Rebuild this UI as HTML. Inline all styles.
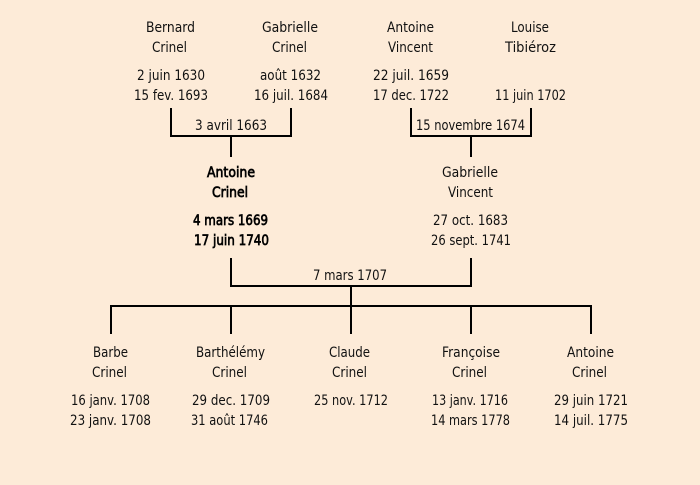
<!DOCTYPE html>
<html><head><meta charset="utf-8"><style>
html,body{margin:0;padding:0;background:#fdebd8;width:700px;height:485px;overflow:hidden}
svg{display:block}
text{font-family:"DejaVu Sans",sans-serif;font-size:14px;fill:#111;text-anchor:start}
.b{stroke:#000;stroke-width:.7px;fill:#000}
</style></head><body>
<svg width="700" height="485" viewBox="0 0 700 485" xmlns="http://www.w3.org/2000/svg">
<rect width="700" height="485" fill="#fdebd8"/>
<g fill="#000">
<rect x="170" y="108" width="2" height="29"/><rect x="290" y="108" width="2" height="29"/><rect x="170" y="135" width="122" height="2"/><rect x="230" y="135" width="2" height="22"/>
<rect x="410" y="108" width="2" height="29"/><rect x="530" y="108" width="2" height="29"/><rect x="410" y="135" width="122" height="2"/><rect x="470" y="135" width="2" height="22"/>
<rect x="230" y="258" width="2" height="29"/><rect x="470" y="258" width="2" height="29"/><rect x="230" y="285" width="242" height="2"/><rect x="350" y="285" width="2" height="22"/>
<rect x="110" y="305" width="482" height="2"/>
<rect x="110" y="305" width="2" height="29"/><rect x="230" y="305" width="2" height="29"/><rect x="350" y="305" width="2" height="29"/><rect x="470" y="305" width="2" height="29"/><rect x="590" y="305" width="2" height="29"/>
</g>
<g>
<text x="146" y="32" textLength="49" lengthAdjust="spacingAndGlyphs">Bernard</text>
<text x="152" y="52" textLength="35" lengthAdjust="spacingAndGlyphs">Crinel</text>
<text x="137" y="80" textLength="68" lengthAdjust="spacingAndGlyphs">2 juin 1630</text>
<text x="134" y="100" textLength="74" lengthAdjust="spacingAndGlyphs">15 fev. 1693</text>
<text x="262" y="32" textLength="56" lengthAdjust="spacingAndGlyphs">Gabrielle</text>
<text x="272" y="52" textLength="35" lengthAdjust="spacingAndGlyphs">Crinel</text>
<text x="260" y="80" textLength="61" lengthAdjust="spacingAndGlyphs">août 1632</text>
<text x="254" y="100" textLength="74" lengthAdjust="spacingAndGlyphs">16 juil. 1684</text>
<text x="195" y="130" textLength="72" lengthAdjust="spacingAndGlyphs">3 avril 1663</text>
<text x="387" y="32" textLength="47" lengthAdjust="spacingAndGlyphs">Antoine</text>
<text x="388" y="52" textLength="45" lengthAdjust="spacingAndGlyphs">Vincent</text>
<text x="373" y="80" textLength="76" lengthAdjust="spacingAndGlyphs">22 juil. 1659</text>
<text x="373" y="100" textLength="76" lengthAdjust="spacingAndGlyphs">17 dec. 1722</text>
<text x="511" y="32" textLength="38" lengthAdjust="spacingAndGlyphs">Louise</text>
<text x="505" y="52" textLength="51" lengthAdjust="spacingAndGlyphs">Tibiéroz</text>
<text x="495" y="100" textLength="71" lengthAdjust="spacingAndGlyphs">11 juin 1702</text>
<text x="416" y="130" textLength="109" lengthAdjust="spacingAndGlyphs">15 novembre 1674</text>
<text class="b" x="207" y="177" textLength="48" lengthAdjust="spacingAndGlyphs">Antoine</text>
<text class="b" x="212" y="197" textLength="36" lengthAdjust="spacingAndGlyphs">Crinel</text>
<text class="b" x="193" y="225" textLength="75" lengthAdjust="spacingAndGlyphs">4 mars 1669</text>
<text class="b" x="194" y="245" textLength="75" lengthAdjust="spacingAndGlyphs">17 juin 1740</text>
<text x="442" y="177" textLength="56" lengthAdjust="spacingAndGlyphs">Gabrielle</text>
<text x="448" y="197" textLength="45" lengthAdjust="spacingAndGlyphs">Vincent</text>
<text x="433" y="225" textLength="75" lengthAdjust="spacingAndGlyphs">27 oct. 1683</text>
<text x="431" y="245" textLength="80" lengthAdjust="spacingAndGlyphs">26 sept. 1741</text>
<text x="313" y="280" textLength="74" lengthAdjust="spacingAndGlyphs">7 mars 1707</text>
<text x="93" y="357" textLength="35" lengthAdjust="spacingAndGlyphs">Barbe</text>
<text x="92" y="377" textLength="35" lengthAdjust="spacingAndGlyphs">Crinel</text>
<text x="71" y="405" textLength="79" lengthAdjust="spacingAndGlyphs">16 janv. 1708</text>
<text x="70" y="425" textLength="81" lengthAdjust="spacingAndGlyphs">23 janv. 1708</text>
<text x="196" y="357" textLength="69" lengthAdjust="spacingAndGlyphs">Barthélémy</text>
<text x="212" y="377" textLength="35" lengthAdjust="spacingAndGlyphs">Crinel</text>
<text x="192" y="405" textLength="78" lengthAdjust="spacingAndGlyphs">29 dec. 1709</text>
<text x="191" y="425" textLength="77" lengthAdjust="spacingAndGlyphs">31 août 1746</text>
<text x="329" y="357" textLength="41" lengthAdjust="spacingAndGlyphs">Claude</text>
<text x="332" y="377" textLength="35" lengthAdjust="spacingAndGlyphs">Crinel</text>
<text x="314" y="405" textLength="74" lengthAdjust="spacingAndGlyphs">25 nov. 1712</text>
<text x="442" y="357" textLength="58" lengthAdjust="spacingAndGlyphs">Françoise</text>
<text x="452" y="377" textLength="35" lengthAdjust="spacingAndGlyphs">Crinel</text>
<text x="432" y="405" textLength="76" lengthAdjust="spacingAndGlyphs">13 janv. 1716</text>
<text x="431" y="425" textLength="79" lengthAdjust="spacingAndGlyphs">14 mars 1778</text>
<text x="567" y="357" textLength="47" lengthAdjust="spacingAndGlyphs">Antoine</text>
<text x="572" y="377" textLength="35" lengthAdjust="spacingAndGlyphs">Crinel</text>
<text x="554" y="405" textLength="74" lengthAdjust="spacingAndGlyphs">29 juin 1721</text>
<text x="554" y="425" textLength="74" lengthAdjust="spacingAndGlyphs">14 juil. 1775</text>
</g>
</svg>
</body></html>
